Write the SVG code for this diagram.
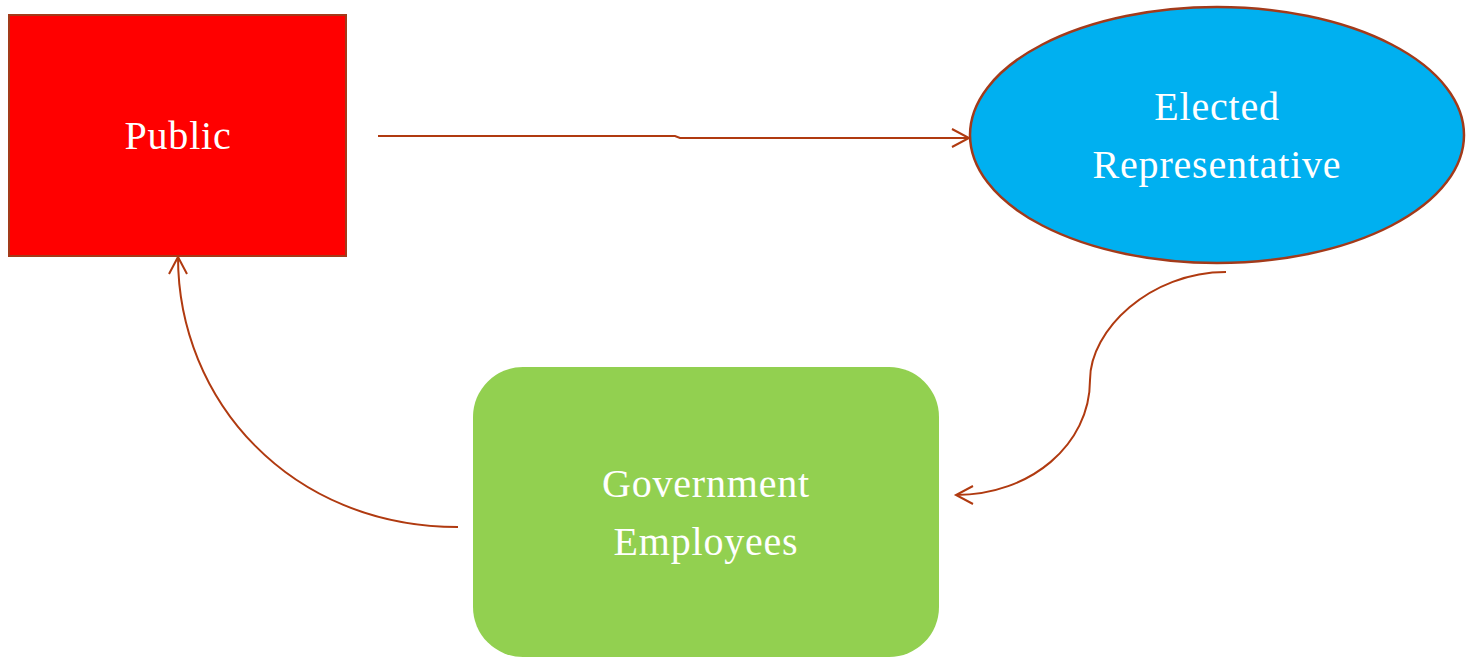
<svg xmlns="http://www.w3.org/2000/svg" width="1466" height="657" viewBox="0 0 1466 657">
<style>
.t{font-family:"Liberation Serif",serif;font-size:40px;letter-spacing:0.8px;fill:#fff;text-anchor:middle}
.c{fill:none;stroke:#B03A10;stroke-width:2}
</style>
<defs>
<marker id="a" markerWidth="24" markerHeight="24" refX="20" refY="10" orient="auto" markerUnits="userSpaceOnUse">
<path d="M3,1 L20,10 L3,19" fill="none" stroke="#B03A10" stroke-width="2"/>
</marker>
</defs>
<rect width="1466" height="657" fill="#fff"/>
<g id="public">
<rect x="9" y="15" width="337" height="241" fill="#FF0000" stroke="#A33A1A" stroke-width="2"/>
<text class="t" x="178" y="149">Public</text>
</g>
<g id="elected">
<ellipse cx="1217" cy="135" rx="247" ry="128" fill="#00B0F0" stroke="#A33A1A" stroke-width="2.5"/>
<text class="t" x="1217" y="120">Elected</text>
<text class="t" x="1217" y="178">Representative</text>
</g>
<g id="employees">
<rect x="473" y="367" width="466" height="290" rx="50" ry="50" fill="#92D050"/>
<text class="t" x="706" y="497">Government</text>
<text class="t" x="706" y="555">Employees</text>
</g>
<g id="connectors">
<path class="c" d="M378,136 L675,136 L680,138 L969,138" marker-end="url(#a)"/>
<path class="c" d="M1226,272 C1150,272 1090,330 1090,380 C1090,445 1030,495 956,495" marker-end="url(#a)"/>
<path class="c" d="M458,527 C290,527 178,400 178,257" marker-end="url(#a)"/>
</g>
</svg>
